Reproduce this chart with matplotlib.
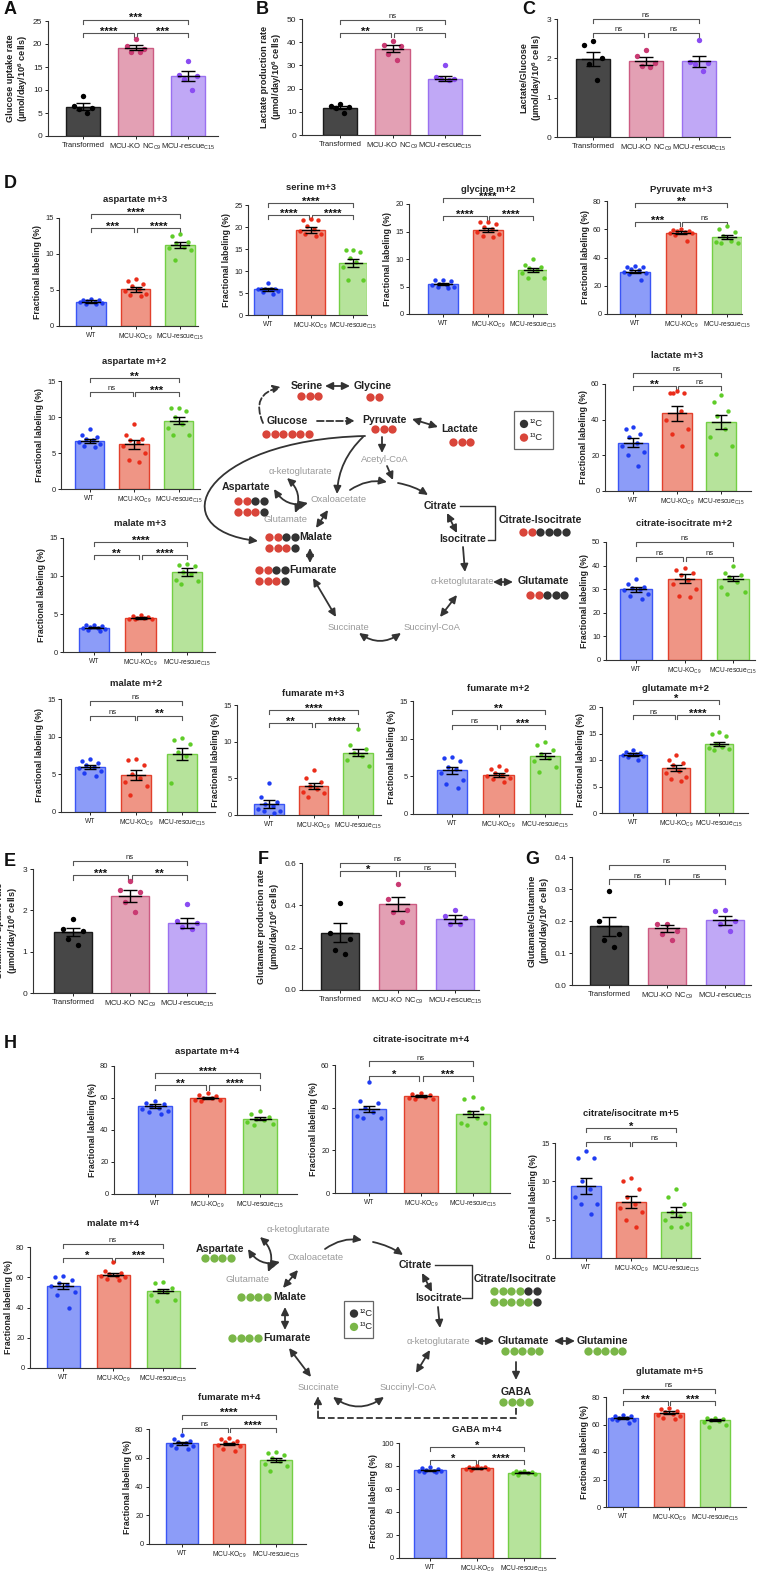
import numpy as np
import matplotlib
matplotlib.use('Agg')
import matplotlib.pyplot as plt
from matplotlib.patches import Rectangle, FancyArrowPatch
from matplotlib.path import Path

plt.rcParams['font.family'] = ['Liberation Sans', 'DejaVu Sans']
plt.rcParams['mathtext.fontset'] = 'custom'
plt.rcParams['mathtext.rm'] = 'Liberation Sans'
plt.rcParams['mathtext.default'] = 'regular'

W, H = 768, 1573

# ---------------- data ----------------
cell_cats = ['Transformed', 'MCU-KO NC$_{C9}$', 'MCU-rescue$_{C15}$']
clone_cats = ['WT', 'MCU-KO$_{C9}$', 'MCU-rescue$_{C15}$']
# significance order: (0 vs 2), (0 vs 1), (1 vs 2)

glc_mean = [6.4, 19.2, 13.0]
glc_sem = [0.7, 0.6, 1.1]
glc_pts = [[8.7, 6.5, 6.0, 5.8, 5.0], [21.0, 19.5, 19.0, 18.3, 18.2], [16.4, 13.2, 13.0, 12.5, 10.0]]
glc_sig = ['***', '****', '***']

lac_mean = [11.7, 37.2, 24.3]
lac_sem = [0.6, 1.5, 1.2]
lac_pts = [[13.2, 12.3, 12.0, 11.5, 9.5], [40.5, 39.0, 38.5, 35.0, 32.5], [30.0, 25.0, 24.0, 24.0, 23.5]]
lac_sig = ['ns', '**', 'ns']

ratio_mean = [1.98, 1.93, 1.92]
ratio_sem = [0.18, 0.10, 0.15]
ratio_pts = [[2.45, 2.35, 2.0, 1.85, 1.45], [2.2, 2.05, 1.88, 1.8, 1.78], [2.47, 1.9, 1.88, 1.85, 1.68]]
ratio_sig = ['ns', 'ns', 'ns']

gln_mean = [1.47, 2.35, 1.70]
gln_sem = [0.10, 0.14, 0.12]
gln_pts = [[1.8, 1.55, 1.5, 1.3, 1.15], [2.7, 2.5, 2.45, 2.2, 1.97], [2.15, 1.75, 1.7, 1.6, 1.55]]
gln_sig = ['ns', '***', '**']

glu_mean = [0.27, 0.405, 0.335]
glu_sem = [0.045, 0.033, 0.018]
glu_pts = [[0.41, 0.27, 0.24, 0.19, 0.17], [0.50, 0.43, 0.38, 0.37, 0.32], [0.38, 0.35, 0.34, 0.31, 0.31]]
glu_sig = ['ns', '*', 'ns']

gg_mean = [0.183, 0.177, 0.202]
gg_sem = [0.030, 0.010, 0.013]
gg_pts = [[0.295, 0.20, 0.16, 0.14, 0.12], [0.19, 0.19, 0.17, 0.16, 0.14], [0.235, 0.23, 0.20, 0.19, 0.17]]
gg_sig = ['ns', 'ns', 'ns']

# panel D (13C-glucose)
asp3_mean = [3.4, 5.1, 11.2]
asp3_sem = [0.15, 0.35, 0.4]
asp3_pts = [[3.7, 3.6, 3.6, 3.5, 3.4, 3.3, 3.2, 3.1, 3.0], [6.5, 6.3, 5.8, 5.5, 5.2, 4.8, 4.5, 4.3, 4.2],
            [12.8, 12.5, 11.6, 11.5, 11.0, 10.8, 10.5, 9.2]]
asp3_sig = ['****', '***', '****']

ser3_mean = [5.8, 19.3, 11.8]
ser3_sem = [0.3, 0.6, 0.9]
ser3_pts = [[7.2, 6.0, 5.9, 5.9, 5.8, 5.8, 5.5, 5.2, 4.8], [21.8, 21.5, 21.5, 20.3, 19.5, 19.0, 18.5, 18.5, 17.9],
            [14.8, 14.8, 14.3, 13.0, 12.0, 10.8, 8.0, 8.0]]
ser3_sig = ['****', '****', '****']

gly2_mean = [5.4, 15.3, 8.0]
gly2_sem = [0.2, 0.4, 0.4]
gly2_pts = [[6.2, 6.1, 6.0, 5.5, 5.3, 5.2, 5.0, 4.9, 4.8], [16.8, 16.7, 16.3, 15.8, 15.5, 15.0, 14.6, 14.2, 14.0],
            [10.0, 8.9, 8.5, 8.3, 8.0, 7.5, 6.5, 6.5]]
gly2_sig = ['****', '****', '****']

pyr3_mean = [30.0, 57.5, 54.5]
pyr3_sem = [1.2, 1.0, 1.2]
pyr3_pts = [[34, 33.5, 33, 32, 31, 30, 29, 28, 24], [60, 59.5, 59, 58.5, 58, 57.5, 57, 56, 52],
            [62, 60, 58, 55, 52, 51, 50, 50]]
pyr3_sig = ['**', '***', 'ns']

asp2_mean = [6.7, 6.2, 9.5]
asp2_sem = [0.3, 0.6, 0.5]
asp2_pts = [[8.3, 7.5, 7.2, 7.0, 6.8, 6.5, 6.3, 6.0, 5.8], [9.0, 7.5, 7.0, 6.8, 6.5, 6.0, 5.0, 4.0, 3.8],
            [11.3, 11.2, 10.8, 10.0, 9.0, 8.5, 7.5, 7.5]]
asp2_sig = ['**', 'ns', '***']

lact3_mean = [27.0, 43.5, 38.5]
lact3_sem = [2.5, 4.0, 4.0]
lact3_pts = [[36, 35, 32, 30, 27, 25, 22, 20, 14], [56, 55, 55, 55, 45, 40, 35, 32, 25],
             [54, 50, 45, 42, 35, 30, 25, 21]]
lact3_sig = ['ns', '**', 'ns']

mal3_mean = [3.2, 4.5, 10.5]
mal3_sem = [0.1, 0.1, 0.5]
mal3_pts = [[3.6, 3.5, 3.4, 3.3, 3.2, 3.1, 3.0, 2.9, 2.8], [4.9, 4.7, 4.6, 4.5, 4.5, 4.4, 4.4, 4.3],
            [11.6, 11.5, 11.3, 10.5, 10.2, 9.5, 9.3, 9.0]]
mal3_sig = ['****', '**', '****']

ci2_mean = [30.0, 34.5, 34.5]
ci2_sem = [1.0, 1.8, 1.2]
ci2_pts = [[34.5, 32, 31, 30.5, 30, 29.5, 28, 27, 26], [39, 38, 37, 36, 34, 32, 30, 27, 26.5],
           [40, 37, 36, 35, 33, 31, 29, 28]]
ci2_sig = ['ns', 'ns', 'ns']

mal2_mean = [6.0, 4.9, 7.7]
mal2_sem = [0.3, 0.7, 0.8]
mal2_pts = [[7.1, 6.8, 6.5, 6.2, 6.0, 5.8, 5.5, 5.2, 4.8], [7.0, 6.9, 6.2, 5.0, 4.5, 4.0, 3.5, 2.2],
            [9.8, 9.5, 9.0, 8.0, 7.5, 3.8]]
mal2_sig = ['ns', 'ns', '**']

fum3_mean = [1.5, 3.9, 8.5]
fum3_sem = [0.6, 0.4, 0.5]
fum3_pts = [[4.3, 2.5, 1.8, 1.5, 1.2, 0.8, 0.5, 0.5, 0.3], [6.1, 5.0, 4.5, 4.0, 3.5, 3.2, 3.0, 2.5],
            [11.7, 9.5, 9.0, 8.5, 8.0, 7.5, 6.7]]
fum3_sig = ['****', '**', '****']

fum2_mean = [5.8, 5.2, 7.7]
fum2_sem = [0.5, 0.3, 0.4]
fum2_pts = [[7.6, 7.5, 7.0, 6.3, 6.0, 5.5, 4.5, 4.0, 3.5], [6.4, 6.0, 5.8, 5.5, 5.2, 5.0, 4.8, 4.6, 4.2],
            [9.6, 9.2, 8.5, 8.0, 7.5, 7.0, 6.2, 5.6]]
fum2_sig = ['**', 'ns', '***']

glut2_mean = [11.0, 8.5, 13.0]
glut2_sem = [0.3, 0.6, 0.4]
glut2_pts = [[11.8, 11.5, 11.3, 11.2, 11.1, 11.0, 10.8, 10.5, 10.0], [11.0, 10.0, 9.5, 9.0, 8.0, 7.5, 6.8, 6.5, 6.0],
             [15.2, 15.0, 14.5, 13.0, 12.5, 12.3, 12.0, 11.8]]
glut2_sig = ['*', 'ns', '****']

# panel H (13C-glutamine)
asp4_mean = [55.0, 60.0, 47.0]
asp4_sem = [1.0, 0.6, 1.0]
asp4_pts = [[58, 57, 56, 55, 54, 53, 52, 51, 50], [63, 62, 61, 60, 60, 59, 59, 58],
            [52, 50, 48, 47, 46, 45, 44, 43]]
asp4_sig = ['****', '**', '****']

ci4_mean = [39.5, 45.5, 37.0]
ci4_sem = [1.5, 0.5, 1.5]
ci4_pts = [[52, 43, 42, 40, 38, 36, 35, 35], [47, 46.5, 46, 45.5, 45, 44.5, 44, 44],
           [45, 44, 40, 38, 35, 33, 33, 32]]
ci4_sig = ['ns', '*', '***']

ci5_mean = [9.4, 7.3, 6.0]
ci5_sem = [1.0, 0.8, 0.6]
ci5_pts = [[14, 13, 13, 10, 9, 8, 7, 7, 5.8], [10.5, 10, 9, 8, 7, 6.5, 6, 5, 4],
           [9, 8, 7, 6, 5.5, 5, 4.5, 4, 4]]
ci5_sig = ['*', 'ns', 'ns']

mal4_mean = [54.5, 61.5, 51.0]
mal4_sem = [2.0, 1.0, 1.5]
mal4_pts = [[61, 60, 58, 56, 55, 54, 50, 48, 40], [70, 64, 63, 62, 61, 61, 60, 59, 58],
            [57, 56, 53, 51, 50, 48, 45, 44]]
mal4_sig = ['ns', '*', '***']

fum4_mean = [70.0, 69.5, 58.5]
fum4_sem = [1.0, 0.8, 1.5]
fum4_pts = [[76, 73, 72, 71, 70, 69, 68, 67, 66], [74, 73, 72, 71, 70, 69, 68, 66, 65],
            [64, 63, 62, 60, 58, 56, 54, 51]]
fum4_sig = ['****', 'ns', '****']

gaba4_mean = [76.3, 78.0, 74.3]
gaba4_sem = [0.4, 0.4, 0.3]
gaba4_pts = [[79, 78, 77, 76.5, 76, 76, 75.5, 75, 74.5], [80, 79.5, 79, 78, 78, 77.5, 77, 76.5],
             [76, 75.5, 75, 74.5, 74, 73.5, 73, 72]]
gaba4_sig = ['*', '*', '****']

glut5_mean = [64.5, 68.5, 63.0]
glut5_sem = [0.7, 1.0, 0.7]
glut5_pts = [[67, 66.5, 66, 65, 64.5, 64, 63.5, 63, 61], [72, 71, 70, 69, 68, 67, 66, 65, 64],
             [65, 64.5, 64, 63, 62.5, 62, 60, 58]]
glut5_sig = ['ns', '**', '***']

# carbon labeling patterns (1 = 13C, 0 = 12C)
glc_patterns = {
    'Serine': [[1, 1, 1]], 'Glycine': [[1, 1]], 'Glucose': [[1] * 6], 'Pyruvate': [[1, 1, 1]],
    'Lactate': [[1, 1, 1]], 'Aspartate': [[1, 1, 0, 0], [1, 1, 1, 0]], 'Malate': [[1, 1, 0, 0], [1, 1, 1, 0]],
    'Fumarate': [[1, 1, 0, 0], [1, 1, 1, 0]], 'Citrate-Isocitrate': [[1, 1, 0, 0, 0, 0]],
    'Glutamate': [[1, 1, 0, 0, 0]],
}
gln_patterns = {
    'Aspartate': [[1] * 4], 'Malate': [[1] * 4], 'Fumarate': [[1] * 4],
    'Citrate/Isocitrate': [[1, 1, 1, 1, 0, 0], [1, 1, 1, 1, 1, 0]],
    'Glutamate': [[1] * 5], 'Glutamine': [[1] * 5], 'GABA': [[1] * 4],
}

# ---------------- styles ----------------
cell_pal = dict(fill=['#474747', '#e3a0b4', '#c0a8f6'], edge=['#1a1a1a', '#cc5b82', '#9a70f0'],
                dot=['#000000', '#c93a72', '#8a4cf2'])
clone_pal = dict(fill=['#8c9cf8', '#ef9585', '#b6e39b'], edge=['#3a55f5', '#e2402c', '#74cf44'],
                 dot=['#1f3cf2', '#ea2d1a', '#5fcc28'])
OFFS = [0.0, -0.17, 0.17, -0.08, 0.08, -0.24, 0.24, -0.12, 0.12]

fig = plt.figure(figsize=(W / 100, H / 100), dpi=100)


def bar_panel(box, centers, ymax, step, levels, mean, sem, pts, sig, pal, cats,
              ylabel='Fractional labeling (%)', title=None, title_y=None, big=False, fmt='{:g}'):
    x0, yt, x1, yb = box
    c0, c2 = centers
    s = (c2 - c0) / 2
    ax = fig.add_axes([x0 / W, 1 - yb / H, (x1 - x0) / W, (yb - yt) / H])
    ax.patch.set_alpha(0)
    ax.set_xlim((x0 - c0) / s, (x1 - c0) / s)
    ax.set_ylim(0, ymax)
    xs = np.arange(3)
    ax.bar(xs, mean, width=0.66, color=pal['fill'], edgecolor=pal['edge'], linewidth=1.0, zorder=1)
    for i in range(3):
        p = pts[i]
        ox = np.array([OFFS[k % len(OFFS)] for k in range(len(p))])
        ax.scatter(i + ox, p, s=15 if big else 10, color=pal['dot'][i], zorder=3, linewidths=0, clip_on=False)
    cap = 5 if big else 4
    ax.errorbar(xs, mean, yerr=sem, fmt='none', ecolor='k', elinewidth=1.0, capsize=cap, capthick=1.0, zorder=4)
    for i in range(3):
        ax.plot([i - 0.2, i + 0.2], [mean[i], mean[i]], color='k', lw=1.0, zorder=4)
    for sp in ['top', 'right']:
        ax.spines[sp].set_visible(False)
    for sp in ['left', 'bottom']:
        ax.spines[sp].set_linewidth(0.8)
        ax.spines[sp].set_color('#333333')
    ticks = np.arange(0, ymax + step / 2, step)
    ax.set_yticks(ticks)
    ax.set_yticklabels([fmt.format(t) for t in ticks])
    ax.set_xticks(xs)
    ax.set_xticklabels(cats)
    ax.tick_params(axis='y', labelsize=6.0 if big else 5.4, length=2.5, width=0.7, pad=1.5, colors='#222222')
    ax.tick_params(axis='x', labelsize=5.5 if big else 4.8, length=2.0, width=0.7, pad=2, colors='#222222')
    ax.set_ylabel(ylabel, fontsize=6.6 if big else 6.3, fontweight='bold', labelpad=2, color='#222222')
    # brackets
    tick = 0.035 * ymax
    g = 0.03
    spans = [(0, 2, levels[0]), (0, 1 - g, levels[1]), (1 + g, 2, levels[1])]
    for (a, b, y), lab in zip(spans, sig):
        ax.plot([a, a, b, b], [y - tick, y, y, y - tick], color='#555555', lw=0.8, clip_on=False)
        if lab == 'ns':
            ax.annotate(lab, ((a + b) / 2, y), xytext=(0, 1.3), textcoords='offset points',
                        ha='center', va='baseline', fontsize=5.5, color='#222222', annotation_clip=False)
        else:
            ax.annotate(lab, ((a + b) / 2, y), xytext=(0, -1.2), textcoords='offset points',
                        ha='center', va='baseline', fontsize=8, fontweight='bold', color='#111111',
                        annotation_clip=False)
    if title:
        fig.text(((c0 + c2) / 2) / W, 1 - title_y / H, title, ha='center', va='center',
                 fontsize=6.8, fontweight='bold', color='#222222')
    return ax


rate_lab = '\n(µmol/day/10$^{6}$ cells)'

# A-C
bar_panel((48, 21, 218, 136), (83, 188), 25, 5, (25.3, 22.4), glc_mean, glc_sem, glc_pts, glc_sig,
          cell_pal, cell_cats, 'Glucose uptake rate' + rate_lab, big=True)
bar_panel((302, 19, 480, 135), (340, 445), 50, 10, (49.6, 44.0), lac_mean, lac_sem, lac_pts, lac_sig,
          cell_pal, cell_cats, 'Lactate production rate' + rate_lab, big=True)
bar_panel((557, 19, 730, 137), (593, 699), 3, 1, (3.0, 2.64), ratio_mean, ratio_sem, ratio_pts, ratio_sig,
          cell_pal, cell_cats, 'Lactate/Glucose' + rate_lab, big=True)

# D
bar_panel((59, 218, 198, 326), (91, 180), 15, 5, (15.5, 13.6), asp3_mean, asp3_sem, asp3_pts, asp3_sig,
          clone_pal, clone_cats, title='aspartate m+3', title_y=199)
bar_panel((248, 205, 367, 315), (268, 353), 25, 5, (25.5, 22.7), ser3_mean, ser3_sem, ser3_pts, ser3_sig,
          clone_pal, clone_cats, title='serine m+3', title_y=188)
bar_panel((409, 204, 547, 314), (443, 533), 20, 5, (21.1, 17.8), gly2_mean, gly2_sem, gly2_pts, gly2_sig,
          clone_pal, clone_cats, title='glycine m+2', title_y=189)
bar_panel((607, 201, 742, 314), (635, 727), 80, 20, (78.6, 65), pyr3_mean, pyr3_sem, pyr3_pts, pyr3_sig,
          clone_pal, clone_cats, title='Pyruvate m+3', title_y=189)
bar_panel((61, 381, 200, 489), (89.5, 178.5), 15, 5, (15.4, 13.5), asp2_mean, asp2_sem, asp2_pts, asp2_sig,
          clone_pal, clone_cats, title='aspartate m+2', title_y=362)
bar_panel((605, 384, 751, 491), (633, 721), 60, 20, (66, 59), lact3_mean, lact3_sem, lact3_pts, lact3_sig,
          clone_pal, clone_cats, title='lactate m+3', title_y=356)
bar_panel((63, 538, 215, 652), (94, 187), 15, 5, (14.5, 12.8), mal3_mean, mal3_sem, mal3_pts, mal3_sig,
          clone_pal, clone_cats, title='malate m+3', title_y=524)
bar_panel((606, 542, 755, 660), (636, 733), 50, 10, (50, 43.6), ci2_mean, ci2_sem, ci2_pts, ci2_sig,
          clone_pal, clone_cats, title='citrate-isocitrate m+2', title_y=524)
bar_panel((61, 699, 215, 812), (90, 182), 15, 5, (14.7, 12.8), mal2_mean, mal2_sem, mal2_pts, mal2_sig,
          clone_pal, clone_cats, title='malate m+2', title_y=683)
bar_panel((237, 705, 381, 815), (269, 358), 15, 5, (14.3, 12.5), fum3_mean, fum3_sem, fum3_pts, fum3_sig,
          clone_pal, clone_cats, title='fumarate m+3', title_y=693)
bar_panel((413, 701, 572, 814), (452, 545), 15, 5, (13.8, 11.8), fum2_mean, fum2_sem, fum2_pts, fum2_sig,
          clone_pal, clone_cats, title='fumarate m+2', title_y=688)
bar_panel((602, 707, 748, 813), (633, 719), 20, 5, (21.3, 18.4), glut2_mean, glut2_sem, glut2_pts, glut2_sig,
          clone_pal, clone_cats, title='glutamate m+2', title_y=688)

# E-G
bar_panel((33, 869, 215, 993), (73, 187), 3, 1, (3.2, 2.85), gln_mean, gln_sem, gln_pts, gln_sig,
          cell_pal, cell_cats, 'Glutamine uptake rate' + rate_lab, big=True)
bar_panel((302, 863, 479, 990), (340, 455), 0.6, 0.2, (0.6, 0.56), glu_mean, glu_sem, glu_pts, glu_sig,
          cell_pal, cell_cats, 'Glutamate production rate' + rate_lab, big=True, fmt='{:.1f}')
bar_panel((572, 857, 751, 985), (609, 725), 0.4, 0.1, (0.375, 0.33), gg_mean, gg_sem, gg_pts, gg_sig,
          cell_pal, cell_cats, 'Glutamate/Glutamine' + rate_lab, big=True, fmt='{:.1f}')

# H
bar_panel((114, 1066, 297, 1194), (155, 260), 80, 20, (75.6, 68), asp4_mean, asp4_sem, asp4_pts, asp4_sig,
          clone_pal, clone_cats, title='aspartate m+4', title_y=1052)
bar_panel((335, 1065, 510, 1193), (369, 473), 60, 20, (61.7, 54.7), ci4_mean, ci4_sem, ci4_pts, ci4_sig,
          clone_pal, clone_cats, title='citrate-isocitrate m+4', title_y=1040)
bar_panel((555, 1143, 700, 1258), (586, 676), 15, 5, (16.9, 15.1), ci5_mean, ci5_sem, ci5_pts, ci5_sig,
          clone_pal, clone_cats, title='citrate/isocitrate m+5', title_y=1113)
bar_panel((30, 1247, 195, 1368), (63, 163), 80, 20, (82, 73), mal4_mean, mal4_sem, mal4_pts, mal4_sig,
          clone_pal, clone_cats, title='malate m+4', title_y=1223)
bar_panel((149, 1429, 306, 1544), (182, 276), 80, 20, (90, 81), fum4_mean, fum4_sem, fum4_pts, fum4_sig,
          clone_pal, clone_cats, title='fumarate m+4', title_y=1397)
bar_panel((399, 1443, 555, 1558), (430, 524), 100, 20, (96.5, 85), gaba4_mean, gaba4_sem, gaba4_pts, gaba4_sig,
          clone_pal, clone_cats, title='GABA m+4', title_y=1429)
bar_panel((606, 1397, 746, 1507), (623, 715), 80, 20, (86, 77), glut5_mean, glut5_sem, glut5_pts, glut5_sig,
          clone_pal, clone_cats, title='glutamate m+5', title_y=1372)

# ---------------- overlay: letters and pathways ----------------
ov = fig.add_axes([0, 0, 1, 1])
ov.set_xlim(0, W)
ov.set_ylim(H, 0)
ov.axis('off')

for lab, x, y in [('A', 4, 9), ('B', 256, 9), ('C', 522, 9), ('D', 4, 183),
                  ('E', 4, 862), ('F', 258, 860), ('G', 525, 860), ('H', 4, 1044)]:
    ov.text(x, y, lab, fontsize=13, fontweight='bold', ha='left', va='center', color='#111111')

DARK = '#333333'
RED = '#d9453a'
GREEN = '#7ab648'
GRAY = '#9a9a9a'
HEAD = ',head_length=0.45,head_width=0.22'


def arrow(p0, p1, both=False, rad=0.0, dashed=False):
    st = '<|-|>' if both else '-|>'
    ov.annotate('', xy=p1, xytext=p0,
                arrowprops=dict(arrowstyle=st + HEAD, color=DARK, lw=1.3,
                                shrinkA=0, shrinkB=0, linestyle='--' if dashed else '-',
                                connectionstyle='arc3,rad=%s' % rad))


def curve_arrow(p0, c1, c2, p1):
    path = Path([p0, c1, c2, p1], [Path.MOVETO, Path.CURVE4, Path.CURVE4, Path.CURVE4])
    ov.add_patch(FancyArrowPatch(path=path, arrowstyle='-|>' + HEAD, mutation_scale=10,
                                 color=DARK, lw=1.3, transform=ov.transData))


def bold(x, y, t):
    ov.text(x, y, t, fontsize=7.6, fontweight='bold', ha='center', va='center', color='#222222')


def gray(x, y, t):
    ov.text(x, y, t, fontsize=6.8, ha='center', va='center', color=GRAY)


def dots(xl, y, pattern, col, d=8.5):
    for r, row in enumerate(pattern):
        for k, v in enumerate(row):
            ov.scatter(xl + d / 2 + k * d, y + r * 10.5, s=36, color=col if v else DARK, linewidths=0, zorder=5)


def legend_box(x, y, w, h, col):
    ov.add_patch(Rectangle((x, y), w, h, fill=False, edgecolor='#666666', lw=0.9))
    ov.scatter([x + 10, x + 10], [y + h * 0.34, y + h * 0.7], s=36, color=[DARK, col], linewidths=0)
    ov.text(x + 16, y + h * 0.34, '¹²C', fontsize=6.8, va='center', color='#222222')
    ov.text(x + 16, y + h * 0.7, '¹³C', fontsize=6.8, va='center', color='#222222')


# D pathway
bold(307, 386, 'Serine'); bold(373, 386, 'Glycine'); bold(287, 421, 'Glucose'); bold(384, 420, 'Pyruvate')
bold(460, 429, 'Lactate'); bold(246, 487, 'Aspartate'); bold(316, 537, 'Malate'); bold(313, 570, 'Fumarate')
bold(440, 506, 'Citrate'); bold(463, 539, 'Isocitrate'); bold(540, 520, 'Citrate-Isocitrate')
bold(543, 581, 'Glutamate')
gray(300, 471, 'α-ketoglutarate'); gray(339, 500, 'Oxaloacetate'); gray(285, 520, 'Glutamate')
gray(385, 459, 'Acetyl-CoA'); gray(348, 627, 'Succinate'); gray(432, 627, 'Succinyl-CoA')
gray(462, 582, 'α-ketoglutarate')

dots(297, 396, glc_patterns['Serine'], RED)
dots(366, 397, glc_patterns['Glycine'], RED)
dots(262, 434, glc_patterns['Glucose'], RED)
dots(371, 429, glc_patterns['Pyruvate'], RED)
dots(449, 442, glc_patterns['Lactate'], RED)
dots(234, 501, glc_patterns['Aspartate'], RED)
dots(265, 537, glc_patterns['Malate'], RED)
dots(255, 570, glc_patterns['Fumarate'], RED)
dots(519, 532, glc_patterns['Citrate-Isocitrate'], RED)
dots(526, 595, glc_patterns['Glutamate'], RED)
legend_box(514, 411, 39, 38, RED)

arrow((325, 386), (350, 386), both=True)
arrow((317, 421), (355, 421), dashed=True)
arrow((263, 423), (281, 387), rad=-0.6, dashed=True)
arrow((412, 419), (438, 427), both=True)
arrow((382, 437), (382, 453))
arrow((387, 466), (393, 480))
arrow((350, 490), (387, 482), rad=-0.2)
arrow((398, 483), (428, 495), rad=-0.1)
curve_arrow((365, 436), (200, 440), (160, 530), (258, 541))
arrow((363, 437), (337, 494), rad=0.2)
arrow((316, 528), (328, 510), both=True)
arrow((274, 489), (308, 503), both=True, rad=0.35)
arrow((287, 478), (295, 513), both=True, rad=-0.35)
arrow((310, 548), (310, 563), both=True)
arrow((313, 578), (336, 617), both=True)
arrow((359, 633), (401, 633), both=True, rad=0.35)
arrow((440, 617), (457, 595), both=True)
arrow((493, 582), (513, 582), both=True)
arrow((447, 513), (457, 533), both=True)
arrow((463, 547), (465, 572))
ov.plot([460, 495, 495, 488], [506, 506, 540, 540], color=DARK, lw=1.0)

# H pathway
bold(220, 1249, 'Aspartate'); bold(290, 1297, 'Malate'); bold(287, 1338, 'Fumarate')
bold(415, 1265, 'Citrate'); bold(439, 1298, 'Isocitrate'); bold(515, 1279, 'Citrate/Isocitrate')
bold(523, 1341, 'Glutamate'); bold(602, 1341, 'Glutamine'); bold(516, 1392, 'GABA')
gray(298, 1230, 'α-ketoglutarate'); gray(316, 1258, 'Oxaloacetate'); gray(248, 1280, 'Glutamate')
gray(318, 1387, 'Succinate'); gray(408, 1387, 'Succinyl-CoA'); gray(438, 1341, 'α-ketoglutarate')

dots(201, 1258, gln_patterns['Aspartate'], GREEN)
dots(237, 1297, gln_patterns['Malate'], GREEN)
dots(228, 1338, gln_patterns['Fumarate'], GREEN)
dots(490, 1291, gln_patterns['Citrate/Isocitrate'], GREEN)
dots(501, 1351, gln_patterns['Glutamate'], GREEN)
dots(584, 1351, gln_patterns['Glutamine'], GREEN)
dots(499, 1402, gln_patterns['GABA'], GREEN)
legend_box(344, 1301, 29, 37, GREEN)

arrow((248, 1249), (280, 1262), both=True, rad=0.35)
arrow((260, 1237), (268, 1272), both=True, rad=-0.35)
arrow((283, 1288), (298, 1270), both=True)
arrow((325, 1249), (362, 1240), rad=-0.2)
arrow((373, 1242), (403, 1255), rad=-0.1)
arrow((422, 1273), (432, 1292), both=True)
ov.plot([435, 472, 472, 462], [1265, 1265, 1298, 1298], color=DARK, lw=1.0)
arrow((438, 1307), (440, 1328))
arrow((474, 1341), (494, 1341), both=True)
arrow((554, 1341), (575, 1341), both=True)
arrow((516, 1362), (516, 1380))
ov.plot([516, 516, 318], [1408, 1418, 1418], color=DARK, lw=1.3, ls='--')
arrow((318, 1418), (318, 1396), dashed=True)
arrow((285, 1307), (285, 1330), both=True)
arrow((289, 1348), (311, 1377), both=True)
arrow((333, 1397), (384, 1397), both=True, rad=0.35)
arrow((416, 1373), (430, 1350), both=True)

fig.savefig('out.png', dpi=100)
